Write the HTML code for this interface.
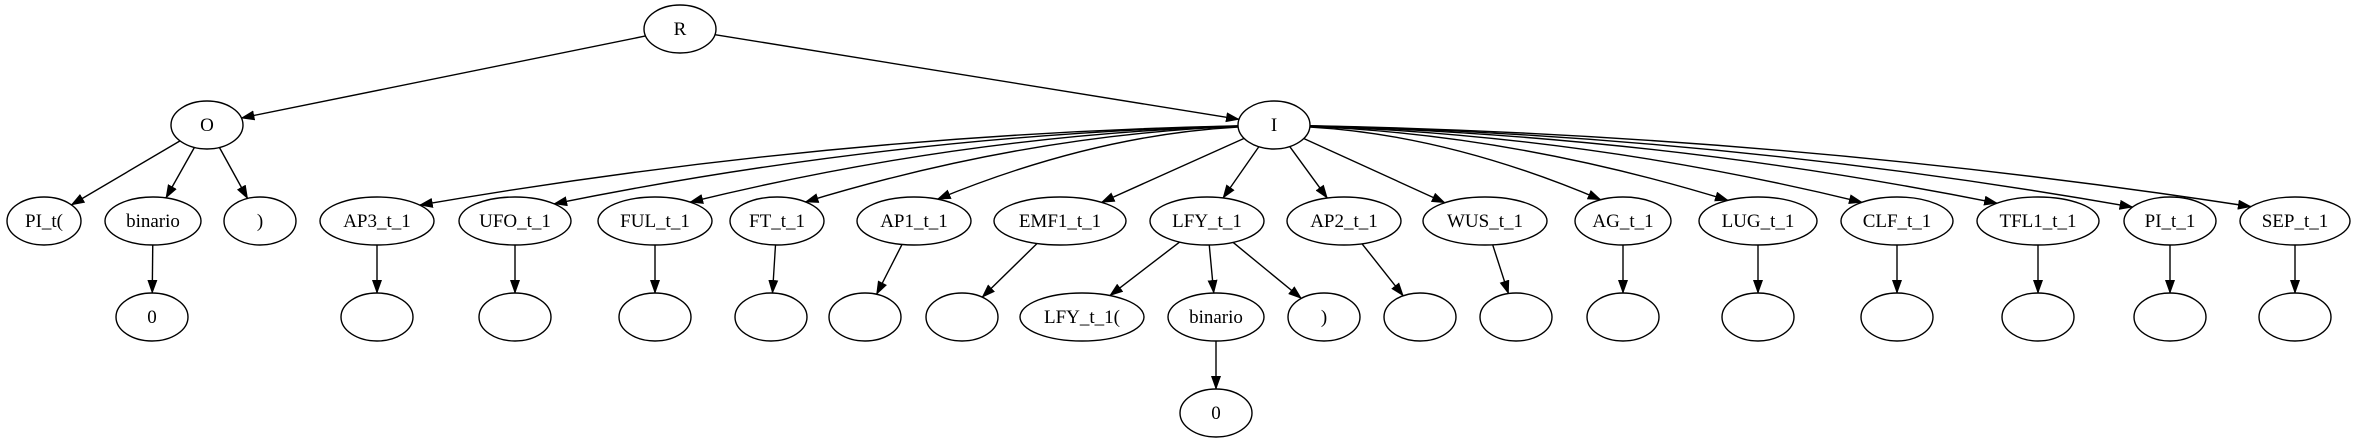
<!DOCTYPE html>
<html><head><meta charset="utf-8"><style>
html,body{margin:0;padding:0;background:#fff;}
svg{display:block;}
text{font-family:"Liberation Serif",serif;font-size:19px;fill:#000;}
</style></head><body>
<svg id="s" width="2356" height="443" viewBox="0 0 2356 443" xmlns="http://www.w3.org/2000/svg">
<defs><marker id="a" markerWidth="14" markerHeight="10" refX="13" refY="5" orient="auto" markerUnits="userSpaceOnUse"><path d="M0,0 L14,5 L0,10 Z" fill="#000"/></marker></defs>
<g id="e" stroke="#000" stroke-width="1.4" fill="none"></g>
<g id="n"></g>
</svg>
<script>
var N={
R:[680,29,36,"R"],O:[207,125,36,"O"],I:[1274,125,36,"I"],
PIt:[44,221,37,"PI_t("],bin:[153,221,48,"binario"],cp:[260,221,36,")"],z0:[152,317,36,"0"],
AP3:[377,221,57,"AP3_t_1"],UFO:[515,221,56,"UFO_t_1"],FUL:[655,221,57,"FUL_t_1"],FT:[777,221,47,"FT_t_1"],
AP1:[914,221,57,"AP1_t_1"],EMF:[1060,221,66,"EMF1_t_1"],LFY:[1207,221,57,"LFY_t_1"],AP2:[1344,221,57,"AP2_t_1"],
WUS:[1485,221,62,"WUS_t_1"],AG:[1623,221,48,"AG_t_1"],LUG:[1758,221,59,"LUG_t_1"],CLF:[1897,221,56,"CLF_t_1"],
TFL:[2038,221,61,"TFL1_t_1"],PI1:[2170,221,46,"PI_t_1"],SEP:[2295,221,55,"SEP_t_1"],
c1:[377,317,36,""],c2:[515,317,36,""],c3:[655,317,36,""],c4:[771,317,36,""],c5:[865,317,36,""],c6:[962,317,36,""],
L1:[1082,317,62,"LFY_t_1("],bin2:[1216,317,48,"binario"],cp2:[1324,317,36,")"],c7:[1420,317,36,""],c8:[1516,317,36,""],
c9:[1623,317,36,""],c10:[1758,317,36,""],c11:[1897,317,36,""],c12:[2038,317,36,""],c13:[2170,317,36,""],c14:[2295,317,36,""],
z1:[1216,413,36,"0"]};
var RY=24;
var E=[["R","O"],["R","I"],["O","PIt"],["O","bin"],["O","cp"],["bin","z0"],
["AP3","c1"],["UFO","c2"],["FUL","c3"],["FT","c4"],["AP1","c5"],["EMF","c6"],["LFY","L1"],["LFY","bin2"],["LFY","cp2"],["bin2","z1"],
["AP2","c7"],["WUS","c8"],["AG","c9"],["LUG","c10"],["CLF","c11"],["TFL","c12"],["PI1","c13"],["SEP","c14"]];
var IC=["AP3","UFO","FUL","FT","AP1","EMF","LFY","AP2","WUS","AG","LUG","CLF","TFL","PI1","SEP"];
function bp(n,tx,ty){var c=N[n],dx=tx-c[0],dy=ty-c[1];var t=1/Math.sqrt(dx*dx/(c[2]*c[2])+dy*dy/(RY*RY));return [c[0]+dx*t,c[1]+dy*t];}
var eg=document.getElementById("e"),h="";
E.forEach(function(p){var a=N[p[0]],b=N[p[1]];var s=bp(p[0],b[0],b[1]),t=bp(p[1],a[0],a[1]);
h+='<path d="M'+s[0]+','+s[1]+' L'+t[0]+','+t[1]+'" marker-end="url(#a)"/>';});
IC.forEach(function(k){var a=N.I,b=N[k];var d=b[0]-a[0];var ad=Math.abs(d);
if(ad<250){var s=bp("I",b[0],b[1]),t=bp(k,a[0],a[1]);h+='<path d="M'+s[0]+','+s[1]+' L'+t[0]+','+t[1]+'" marker-end="url(#a)"/>';return;}
var cx=a[0]+d*0.5,cy=a[1]+10;var s=bp("I",cx,cy),t=bp(k,b[0]-d*0.12,b[1]-40);
h+='<path d="M'+s[0]+','+s[1]+' Q'+cx+','+cy+' '+t[0]+','+t[1]+'" marker-end="url(#a)"/>';});
eg.innerHTML=h;
var ng=document.getElementById("n"),g="";
for(var k in N){var c=N[k];g+='<ellipse cx="'+c[0]+'" cy="'+c[1]+'" rx="'+c[2]+'" ry="'+RY+'" fill="#fff" stroke="#000" stroke-width="1.4"/>';
if(c[3])g+='<text x="'+c[0]+'" y="'+(c[1]+6)+'" text-anchor="middle">'+c[3]+'</text>';}
ng.innerHTML=g;
</script>
</body></html>
